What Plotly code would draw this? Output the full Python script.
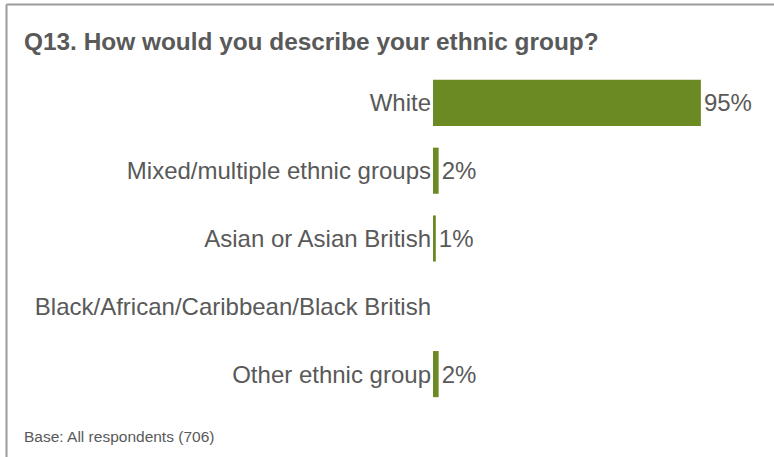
import plotly.graph_objects as go

categories = ["White", "Mixed/multiple ethnic groups", "Asian or Asian British",
              "Black/African/Caribbean/Black British", "Other ethnic group"]
values = [95, 2, 1, 0, 2]
labels = [f"{v}%" if v > 0 else "" for v in values]

TEXT = "#595959"
GREEN = "#6B8A24"
W, H = 774, 457
L, T, R, B = 433, 69, 59, 49
pw, ph = W - L - R, H - T - B

fig = go.Figure(go.Bar(
    x=values, y=categories, orientation="h",
    marker=dict(color=GREEN, line=dict(width=0)),
    width=0.68,
    text=labels, textposition="outside", cliponaxis=False,
    textfont=dict(family="Liberation Sans, Arial", size=24, color=TEXT),
))

fig.update_layout(
    width=W, height=H,
    margin=dict(l=L, r=R, t=T, b=B),
    paper_bgcolor="white", plot_bgcolor="white",
    showlegend=False,
    font=dict(family="Liberation Sans, Arial", color=TEXT),
    xaxis=dict(range=[0, 100], visible=False, fixedrange=True),
    yaxis=dict(autorange="reversed", showgrid=False, zeroline=False,
               showline=False, ticks="", ticklabelstandoff=1,
               tickfont=dict(size=24, color=TEXT)),
    title=dict(text="<b>Q13. How would you describe your ethnic group?</b>",
               x=24 / W, xanchor="left", xref="container",
               y=1 - 41 / H, yanchor="middle", yref="container",
               font=dict(family="Liberation Sans, Arial", size=24.4, color=TEXT)),
    annotations=[dict(text="Base: All respondents (706)", showarrow=False,
                      xref="paper", yref="paper",
                      x=(22 - L) / pw, y=(H - B - 436) / ph,
                      xanchor="left", yanchor="middle",
                      font=dict(size=15.5, color=TEXT))],
    shapes=[
        dict(type="line", xref="paper", yref="paper",
             x0=(6.5 - L) / pw, x1=(W + 5 - L) / pw,
             y0=(H - B - 4.5) / ph, y1=(H - B - 4.5) / ph,
             line=dict(color="#9A9A9A", width=2)),
        dict(type="line", xref="paper", yref="paper",
             x0=(6.5 - L) / pw, x1=(6.5 - L) / pw,
             y0=(H - B - 4.5) / ph, y1=(H - B - H - 10) / ph,
             line=dict(color="#9A9A9A", width=2)),
    ],
)

fig.write_html("out.html", config={"displayModeBar": False},
               post_script="document.body.style.margin='0';document.body.style.overflow='hidden';")
